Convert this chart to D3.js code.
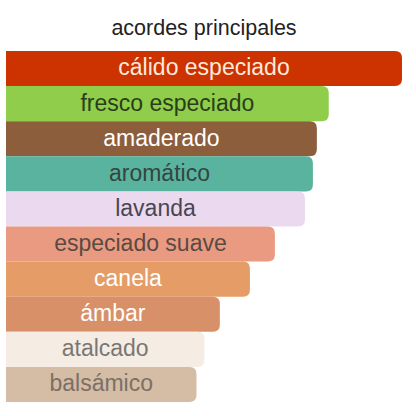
<!DOCTYPE html>
<html>
<head>
<meta charset="utf-8">
<script src="https://cdn.jsdelivr.net/npm/d3@7"></script>
<style>
  body { margin: 0; background: #fff; }
  svg { display: block; font-family: "Liberation Sans", Arial, sans-serif; }
</style>
</head>
<body>
<div id="chart"></div>
<script>
var accords = ["cálido especiado", "fresco especiado", "amaderado", "aromático", "lavanda",
               "especiado suave", "canela", "ámbar", "atalcado", "balsámico"]
var strength = [100, 81.5, 78.5, 77.5, 75.5, 67.9, 61.6, 54, 50.1, 48.1]
var fills = ["#cc3300", "#8fcd4b", "#8c5e3c", "#5ab39f", "#ebd9f0",
             "#e99a80", "#e59c66", "#d79068", "#f5ece4", "#d4bca5"]
var inks = ["#fbe9dc", "#2a3d1c", "#ffffff", "#354540", "#4a4550",
            "#5a4a44", "#ffffff", "#ffffff", "#7a7773", "#7a7068"]

var margin = { top: 51, right: 14, bottom: 14, left: 6 }

var svg = d3.select("#chart")
            .append("svg")
            .attr("width", 416)
            .attr("height", 416)

svg.append("text")
    .attr("x", 204)
    .attr("y", 35)
    .attr("text-anchor", "middle")
    .attr("font-size", "21.5px")
    .attr("fill", "#222")
    .text("acordes principales")

var g = svg.append("g")
           .attr("transform", "translate(" + margin.left + "," + margin.top + ")")

var x = d3.scaleLinear().domain([0, 100]).range([0, 396])
var y = d3.scaleBand().domain(accords).range([0, 351]).padding(0)

var r = 7
function barPath(d, i) {
    var w = x(strength[i]), y0 = y(d), h = y.bandwidth()
    return "M0," + y0 +
        "H" + (w - r) +
        "Q" + w + "," + y0 + " " + w + "," + (y0 + r) +
        "V" + (y0 + h - r) +
        "Q" + w + "," + (y0 + h) + " " + (w - r) + "," + (y0 + h) +
        "H0Z"
}

g.selectAll(".bar")
    .data(accords)
    .enter()
    .append("path")
    .attr("class", "bar")
    .attr("d", barPath)
    .attr("fill", function(d, i) { return fills[i] })

g.selectAll(".label")
    .data(accords)
    .enter()
    .append("text")
    .attr("class", "label")
    .attr("x", function(d, i) { return x(strength[i]) / 2 })
    .attr("y", function(d) { return y(d) + y.bandwidth() / 2 })
    .attr("dy", "0.3em")
    .attr("text-anchor", "middle")
    .attr("font-size", "23px")
    .attr("fill", function(d, i) { return inks[i] })
    .text(function(d) { return d })
</script>
</body>
</html>
